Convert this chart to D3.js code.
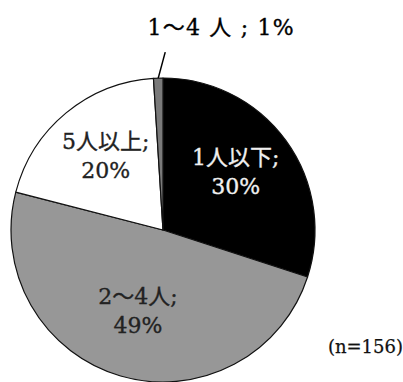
<!DOCTYPE html>
<html>
<head>
<meta charset="utf-8">
<script src="https://cdn.jsdelivr.net/npm/d3@7/dist/d3.min.js"></script>
<style>
  html, body { margin: 0; padding: 0; background: #fff; }
  svg { display: block; }
  text { font-family: "DejaVu Serif", "Liberation Serif", "Noto Sans CJK JP", serif; }
</style>
</head>
<body>
<svg id="chart" width="403" height="382"></svg>
<script>
// Household size breakdown (n=156)
const categories = ["1人以下", "2～4人", "5人以上", "1〜4 人"];
const values = [30, 49, 20, 1];
const fills = ["#000000", "#979797", "#ffffff", "#7a7a7a"];
const textColors = ["#f0f0f0", "#222222", "#222222", "#000000"];
const sampleNote = "(n=156)";

const svg = d3.select("#chart");
const cx = 163, cy = 230, radius = 152;

const pie = d3.pie().sort(null).value(d => d.value);
const arcs = pie(categories.map((c, i) => ({ name: c, value: values[i], i })));

const arc = d3.arc().innerRadius(0).outerRadius(radius);
const labelArc = d3.arc().innerRadius(90).outerRadius(90);

const g = svg.append("g").attr("transform", `translate(${cx},${cy})`);

g.selectAll("path.slice")
  .data(arcs)
  .join("path")
  .attr("class", "slice")
  .attr("d", arc)
  .attr("fill", d => fills[d.data.i])
  .attr("stroke", "#111")
  .attr("stroke-width", 1.2)
  .attr("stroke-linejoin", "round");

// in-slice labels for the larger slices
const inside = arcs.filter(d => d.data.value >= 5);
const lbl = g.selectAll("g.lbl")
  .data(inside)
  .join("g")
  .attr("class", "lbl")
  .attr("transform", d => `translate(${labelArc.centroid(d)})`);

function styleText(sel, color) {
  sel.attr("text-anchor", "middle")
    .attr("font-size", 22)
    .attr("fill", color)
    .attr("stroke", color)
    .attr("stroke-width", 0.35);
}

lbl.append("text")
  .attr("y", -12)
  .each(function (d) { styleText(d3.select(this), textColors[d.data.i]); })
  .text(d => d.data.name + ";");

lbl.append("text")
  .attr("y", 17)
  .each(function (d) { styleText(d3.select(this), textColors[d.data.i]); })
  .text(d => d.data.value + "%");

// outside label with leader line for the thin slice
const small = arcs.filter(d => d.data.value < 5);
small.forEach(d => {
  const mid = (d.startAngle + d.endAngle) / 2;
  const p0 = [Math.sin(mid) * radius, -Math.cos(mid) * radius];
  const p1 = [p0[0] + 7, p0[1] - 26];
  g.append("line")
    .attr("x1", p0[0]).attr("y1", p0[1])
    .attr("x2", p1[0]).attr("y2", p1[1])
    .attr("stroke", "#000")
    .attr("stroke-width", 1.5);
  const t = g.append("text")
    .attr("x", p1[0] + 56)
    .attr("y", p1[1] - 17)
    .attr("letter-spacing", 1.2);
  styleText(t, textColors[d.data.i]);
  t.text(d.data.name + " ; " + d.data.value + "%");
});

svg.append("text")
  .attr("x", 403)
  .attr("y", 353)
  .attr("text-anchor", "end")
  .attr("font-size", 18)
  .attr("fill", "#111")
  .attr("stroke", "#111")
  .attr("stroke-width", 0.25)
  .text(sampleNote);
</script>
</body>
</html>
